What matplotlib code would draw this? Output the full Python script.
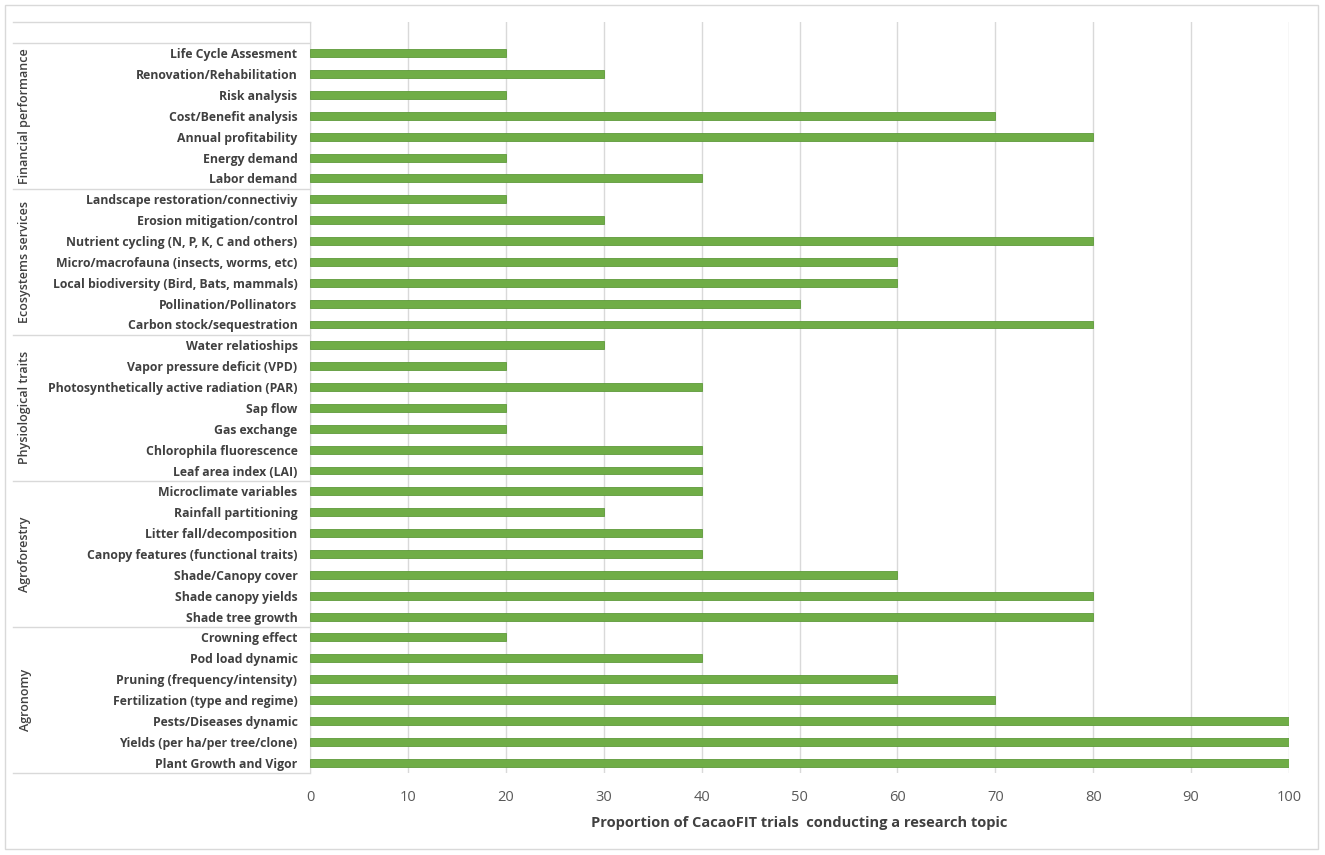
import numpy as np
import matplotlib.pyplot as plt
from matplotlib.patches import Rectangle
from matplotlib.lines import Line2D

# groups listed bottom to top, topics inside each group bottom to top
groups = ["Agronomy", "Agroforestry", "Physiological traits",
          "Ecosystems services", "Financial performance"]

agronomy = ["Plant Growth and Vigor", "Yields (per ha/per tree/clone)",
            "Pests/Diseases dynamic", "Fertilization (type and regime)",
            "Pruning (frequency/intensity)", "Pod load dynamic", "Crowning effect"]
agronomy_vals = [100, 100, 100, 70, 60, 40, 20]

agroforestry = ["Shade tree growth", "Shade canopy yields", "Shade/Canopy cover",
                "Canopy features (functional traits)", "Litter fall/decomposition",
                "Rainfall partitioning", "Microclimate variables"]
agroforestry_vals = [80, 80, 60, 40, 40, 30, 40]

physio = ["Leaf area index (LAI)", "Chlorophila fluorescence", "Gas exchange",
          "Sap flow", "Photosynthetically active radiation (PAR)",
          "Vapor pressure deficit (VPD)", "Water relatioships"]
physio_vals = [40, 40, 20, 20, 40, 20, 30]

ecosys = ["Carbon stock/sequestration", "Pollination/Pollinators",
          "Local biodiversity (Bird, Bats, mammals)",
          "Micro/macrofauna (insects, worms, etc)",
          "Nutrient cycling (N, P, K, C and others)",
          "Erosion mitigation/control", "Landscape restoration/connectiviy"]
ecosys_vals = [80, 50, 60, 60, 80, 30, 20]

financial = ["Labor demand", "Energy demand", "Annual profitability",
             "Cost/Benefit analysis", "Risk analysis", "Renovation/Rehabilitation",
             "Life Cycle Assesment"]
financial_vals = [40, 20, 80, 70, 20, 30, 20]

topics = agronomy + agroforestry + physio + ecosys + financial + [""]
values = agronomy_vals + agroforestry_vals + physio_vals + ecosys_vals + financial_vals + [np.nan]
group_sizes = [len(agronomy), len(agroforestry), len(physio), len(ecosys), len(financial)]

W, H = 1325, 855
fig = plt.figure(figsize=(W / 100, H / 100), dpi=100)
plt.rcParams['font.family'] = ['Open Sans', 'DejaVu Sans']

left, right, top, bottom = 310, 1289, 22, 773
ax = fig.add_axes([left / W, 1 - bottom / H, (right - left) / W, (bottom - top) / H])

txt = "#404040"
grid = "#d9d9d9"

y = np.arange(len(topics))
ax.barh(y, values, height=0.38, color="#70ad47", edgecolor="#5e9a3a", linewidth=0.6, zorder=3)
ax.set_ylim(-0.5, len(topics) - 0.5)
ax.set_xlim(0, 100)
ax.set_xticks(np.arange(0, 101, 10))
ax.grid(axis="x", color=grid, linewidth=1, zorder=0)
for s in ["top", "right", "bottom"]:
    ax.spines[s].set_visible(False)
ax.spines["left"].set_color(grid)
ax.tick_params(axis="x", length=0, pad=12, labelsize=10.5, labelcolor="#595959")
ax.set_yticks(y)
ax.set_yticklabels(topics, fontsize=8.8, fontweight="bold", color=txt)
ax.tick_params(axis="y", length=0, pad=9)
ax.set_xlabel("Proportion of CacaoFIT trials  conducting a research topic",
              fontsize=10.5, fontweight="bold", color=txt, labelpad=8)

# grouping boxes on the category axis
tr = ax.get_yaxis_transform()
x0 = (13 - left) / (right - left)
bounds = np.concatenate([[0], np.cumsum(group_sizes)]) - 0.5
for b in list(bounds) + [len(topics) - 0.5]:
    ax.add_line(Line2D([x0, 0], [b, b], transform=tr, color=grid, lw=1, clip_on=False))
xg = (25 - left) / (right - left)
for g, lo, hi in zip(groups, bounds[:-1], bounds[1:]):
    ax.text(xg, (lo + hi) / 2, g, transform=tr, rotation=90, ha="center", va="center",
            fontsize=9, fontweight="semibold", color=txt)

# outer frame
fig.add_artist(Rectangle((5 / W, 1 - 849 / H), 1313 / W, 844 / H, transform=fig.transFigure,
                         fill=False, edgecolor=grid, lw=1))

fig.savefig("out.png", dpi=100)
